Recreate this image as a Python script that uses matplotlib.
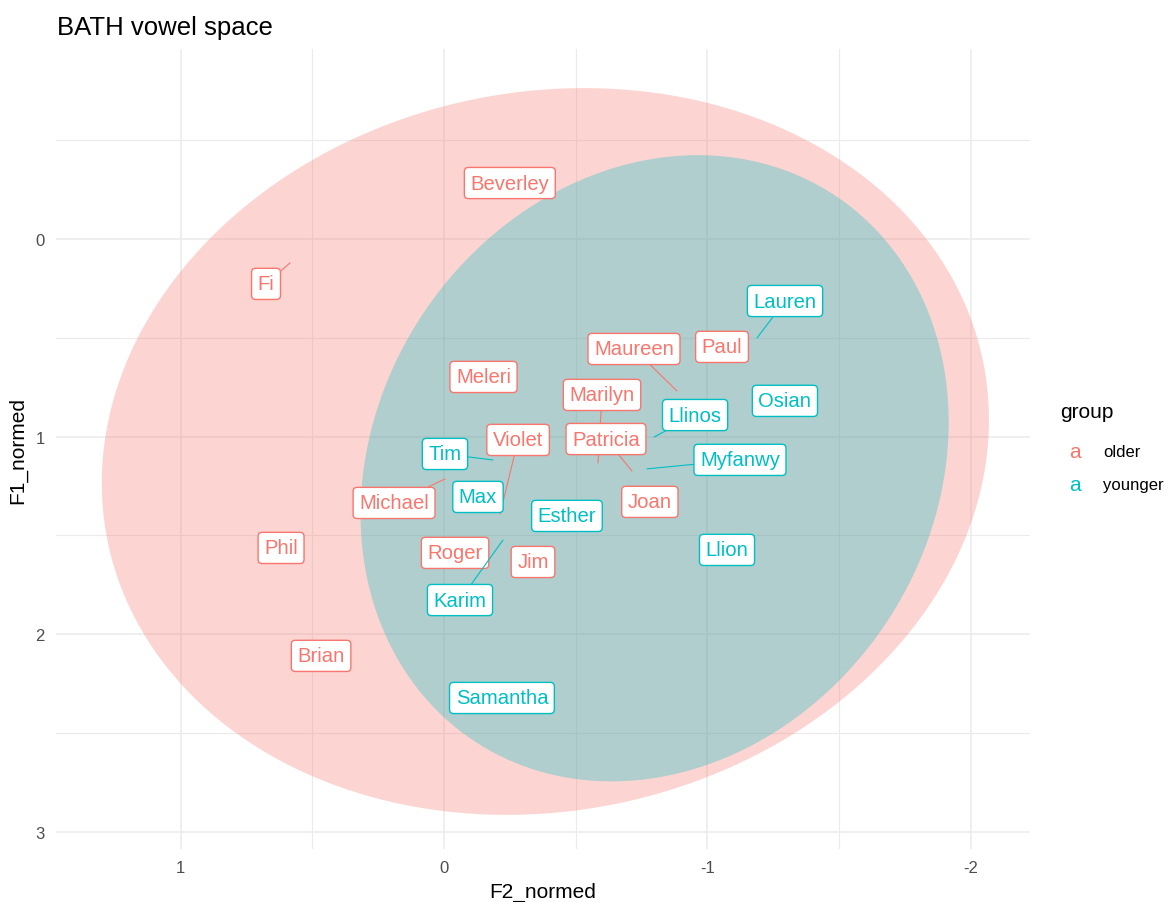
import numpy as np
import matplotlib
matplotlib.use("Agg")
import matplotlib.pyplot as plt

plt.rcParams['font.family'] = ['Liberation Sans', 'DejaVu Sans']

# speakers (F2_normed, F1_normed)
older_names = ["Beverley", "Fi", "Meleri", "Maureen", "Paul", "Marilyn", "Patricia",
               "Violet", "Michael", "Phil", "Roger", "Jim", "Joan", "Brian"]
older_f2 = [-0.25, 0.585, -0.15, -0.885, -1.056, -0.585, -0.714,
            -0.213, -0.004, 0.619, -0.042, -0.338, -0.782, 0.467]
older_f1 = [-0.283, 0.121, 0.698, 0.769, 0.546, 1.133, 1.174,
            1.391, 1.214, 1.563, 1.588, 1.634, 1.330, 2.109]

younger_names = ["Lauren", "Osian", "Llinos", "Myfanwy", "Tim", "Max", "Esther",
                 "Karim", "Llion", "Samantha"]
younger_f2 = [-1.189, -1.295, -0.798, -0.771, -0.186, -0.129, -0.467,
              -0.224, -1.075, -0.220]
younger_f1 = [0.501, 0.819, 1.002, 1.163, 1.118, 1.305, 1.401,
              1.523, 1.573, 2.322]

# 95% ellipses (centre and scaled covariance)
older_centre = [-0.385, 1.075]
older_cov = [[2.84, 0.27], [0.27, 3.38]]
younger_centre = [-0.80, 1.16]
younger_cov = [[1.248, 0.26], [0.26, 2.509]]

# where ggrepel pushed the labels (pixels from the point)
label_offset = {
    "Fi": (-24, -21), "Maureen": (-43, 42), "Marilyn": (4, 68), "Patricia": (-26, 32),
    "Violet": (18, 74), "Michael": (-51, -24), "Lauren": (28, 37), "Llinos": (41, 22),
    "Myfanwy": (93, 9), "Tim": (-48, 6), "Karim": (-43, -60),
}

red = "#F8766D"
teal = "#00BFC4"

fig = plt.figure(figsize=(11.68, 9.03), dpi=100)
ax = fig.add_axes([56 / 1168, 1 - 850 / 903, (1030 - 56) / 1168, 800 / 903])

for s in ax.spines.values():
    s.set_visible(False)
ax.set_xlim(1.474, -2.226)
ax.set_ylim(3.086, -0.961)
ax.set_xticks([1, 0, -1, -2])
ax.set_xticklabels(["1", "0", "-1", "-2"])
ax.set_yticks([0, 1, 2, 3])
ax.set_xticks([0.5, -0.5, -1.5], minor=True)
ax.set_yticks([-0.5, 0.5, 1.5, 2.5], minor=True)
ax.tick_params(which='both', length=0, labelsize=12, labelcolor="#4D4D4D", pad=8)
ax.grid(which='major', color="#EBEBEB", lw=1.1)
ax.grid(which='minor', color="#EBEBEB", lw=0.8)
ax.set_axisbelow(True)


def ellipse(centre, cov):
    t = np.linspace(0, 2 * np.pi, 200)
    L = np.linalg.cholesky(np.array(cov))
    pts = L @ np.vstack([np.cos(t), np.sin(t)])
    return centre[0] + pts[0], centre[1] + pts[1]


ex, ey = ellipse(older_centre, older_cov)
ax.fill(ex, ey, color=red, alpha=0.3, lw=0, zorder=1)
ex, ey = ellipse(younger_centre, younger_cov)
ax.fill(ex, ey, color=teal, alpha=0.3, lw=0, zorder=1)


def labels(names, xs, ys, col):
    for n, x, y in zip(names, xs, ys):
        off = label_offset.get(n, (0, 0))
        kw = {}
        if off != (0, 0):
            kw['arrowprops'] = dict(arrowstyle='-', color=col, lw=0.8, shrinkA=0, shrinkB=0)
        ax.annotate(n, xy=(x, y), xytext=off, textcoords='offset pixels',
                    ha='center', va='center', color=col, fontsize=14.6, zorder=3,
                    bbox=dict(boxstyle='round,pad=0.3,rounding_size=0.2',
                              fc='white', ec=col, lw=1.0), **kw)


labels(older_names, older_f2, older_f1, red)
labels(younger_names, younger_f2, younger_f1, teal)

ax.set_xlabel("F2_normed", fontsize=15, labelpad=5)
ax.set_ylabel("F1_normed", fontsize=15, labelpad=6)
fig.text(57 / 1168, 1 - 28 / 903, "BATH vowel space", fontsize=18.5, va='center', ha='left')

# legend
fig.text(1060 / 1168, 1 - 413 / 903, "group", fontsize=15, va='center')
fig.text(1075 / 1168, 1 - 453 / 903, "a", fontsize=15, va='center', ha='center', color=red)
fig.text(1103 / 1168, 1 - 453 / 903, "older", fontsize=12, va='center')
fig.text(1075 / 1168, 1 - 486 / 903, "a", fontsize=15, va='center', ha='center', color=teal)
fig.text(1103 / 1168, 1 - 486 / 903, "younger", fontsize=12, va='center')

fig.savefig("out.png", dpi=100)
